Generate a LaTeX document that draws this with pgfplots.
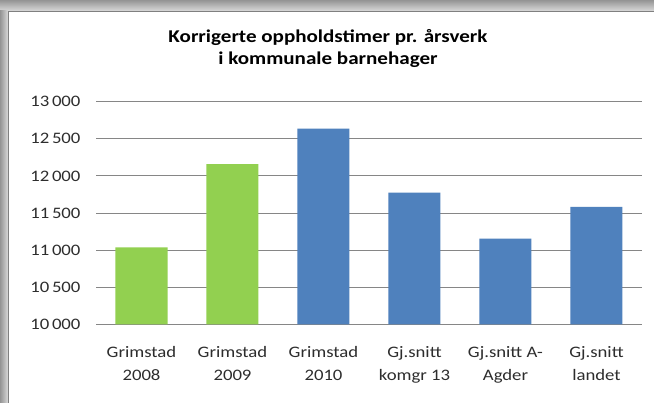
\documentclass[border=0pt]{standalone}
\usepackage{pgfplots}
\pgfplotsset{compat=1.18}
\usepackage{fontspec}
\setmainfont{Carlito}[FakeStretch=1.17]
\definecolor{cgreen}{RGB}{146,208,80}
\definecolor{cblue}{RGB}{79,129,189}
\definecolor{cgrid}{RGB}{134,134,134}
\definecolor{ctext}{RGB}{45,45,45}
\begin{document}
\begin{tikzpicture}[x=1pt,y=1pt]
\path[use as bounding box] (0,0) rectangle (654,403);
\fill[white] (0,0) rectangle (654,403);
\shade[top color=black!42, bottom color=black!15] (0,392) rectangle (654,403);
\shade[left color=black!42, right color=black!15] (0,0) rectangle (8,392);
\draw[black!50, line width=0.8] (8,0) -- (8,392) -- (654,392);
\node[anchor=base, font=\fontsize{18}{21}\selectfont\bfseries] at (328,360) {Korrigerte oppholdstimer pr. årsverk};
\node[anchor=base, font=\fontsize{18}{21}\selectfont\bfseries] at (328,338) {i kommunale barnehager};
\begin{axis}[at={(96pt,78.7pt)}, anchor=south west, scale only axis,
  width=546pt, height=222.6pt,
  xmin=-0.5, xmax=5.5, ymin=10000, ymax=13000,
  scaled y ticks=false,
  ytick={10000,10500,11000,11500,12000,12500,13000},
  yticklabels={10\,000,10\,500,11\,000,11\,500,12\,000,12\,500,13\,000},
  xtick={0,1,2,3,4,5},
  xticklabels={Grimstad\\[2pt]2008,Grimstad\\[2pt]2009,Grimstad\\[2pt]2010,Gj.snitt\\[2pt]komgr 13,Gj.snitt A-\\[2pt]Agder,Gj.snitt\\[2pt]landet},
  ymajorgrids, grid style={cgrid, line width=0.9},
  axis line style={draw=none},
  major tick length=0pt,
  tick label style={font=\fontsize{16}{21}\selectfont, text=ctext},
  xticklabel style={align=center, yshift=-19pt},
  yticklabel style={xshift=-12pt},
  ybar, bar width=52pt]
\addplot[fill=cgreen, draw=none, bar shift=0pt] coordinates {(0,11038) (1,12160)};
\addplot[fill=cblue, draw=none, bar shift=0pt] coordinates {(2,12636) (3,11774) (4,11154) (5,11581)};
\end{axis}
\end{tikzpicture}
\end{document}
